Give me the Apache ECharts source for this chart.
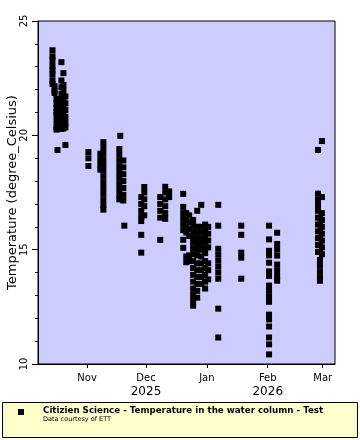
<!DOCTYPE html>
<html>
<head>
<meta charset="utf-8">
<script src="https://cdn.jsdelivr.net/npm/echarts@6/dist/echarts.min.js"></script>
<style>
html,body{margin:0;padding:0;background:#fff;}
#chart{width:360px;height:440px;}
</style>
</head>
<body>
<div id="chart"></div>
<script>
// Sampling times (one per vertical column of observations)
const sampleTimes = [
  '2025-10-14 09:00', '2025-10-15 10:00', '2025-10-16 10:00', '2025-10-16 22:00',
  '2025-10-18 22:00', '2025-10-19 23:00', '2025-10-20 23:00',
  '2025-11-01 16:00', '2025-11-07 18:00', '2025-11-09 07:00',
  '2025-11-17 10:00', '2025-11-17 22:00', '2025-11-19 11:00', '2025-11-19 23:00',
  '2025-11-28 14:00', '2025-11-30 03:00', '2025-12-08 06:00', '2025-12-10 19:00', '2025-12-12 19:00',
  '2025-12-19 23:00', '2025-12-21 12:00', '2025-12-23 00:00', '2025-12-25 00:00',
  '2025-12-27 02:00', '2025-12-29 03:00', '2025-12-31 03:00', '2026-01-01 16:00',
  '2026-01-06 19:00', '2026-01-18 12:00', '2026-02-01 16:00', '2026-02-05 19:00',
  '2026-02-26 14:00', '2026-02-27 14:00', '2026-02-28 14:00'
];
// Temperatures (degree_Celsius) measured at each sampling time
const sampleTemps = [
  [23.72, 23.45, 23.29, 23.03, 22.85, 22.68, 22.41, 22.25],
  [22.15, 21.95, 21.85],
  [21.59, 21.4, 21.2, 21.0, 20.89, 20.63, 20.37, 20.25],
  [19.36],
  [23.2, 22.4, 22.1, 21.8, 21.6, 21.4, 21.2, 21.0, 20.8, 20.6, 20.4, 20.28],
  [22.72, 22.2, 21.95, 21.7, 21.45, 21.2, 20.95, 20.7, 20.5, 20.3],
  [21.7, 21.4, 21.1, 20.8, 20.55, 20.35, 19.58],
  [19.27, 19.0, 18.66],
  [19.2, 18.95, 18.7, 18.5],
  [19.7, 19.45, 19.2, 18.95, 18.7, 18.45, 18.2, 17.95, 17.7, 17.45, 17.2, 16.95, 16.75],
  [19.4, 19.15, 18.9, 18.65, 18.4, 18.15, 17.9, 17.65, 17.4, 17.2],
  [19.98],
  [18.9, 18.6, 18.3, 18.0, 17.7, 17.4, 17.15],
  [16.05],
  [17.3, 17.0, 16.7, 16.45, 16.25, 15.65, 14.87],
  [17.74, 17.5, 17.2, 16.9, 16.5],
  [17.3, 17.0, 16.7, 16.4, 15.43],
  [17.75, 17.5, 17.2, 16.9, 16.6, 16.35],
  [17.55, 17.3],
  [17.44, 16.87, 16.6, 16.35, 16.1, 15.85, 15.43, 15.08],
  [16.6, 16.3, 16.0, 15.75, 14.7, 14.45],
  [16.5, 16.2, 15.9, 15.6, 14.75, 14.5],
  [16.3, 16.05, 15.8, 15.55, 15.3, 15.05, 14.8, 14.5, 14.2, 13.9, 13.6, 13.3, 13.05, 12.8, 12.55],
  [16.7, 16.0, 15.75, 15.5, 15.25, 15.0, 14.75, 14.4, 14.1, 13.8, 13.5, 13.2, 12.9],
  [16.96, 16.0, 15.75, 15.5, 15.25, 15.0, 14.7, 14.4, 14.1, 13.8, 13.5],
  [16.1, 15.85, 15.6, 15.35, 15.1, 14.85, 14.5, 14.2, 13.9, 13.6, 13.3],
  [16.0, 15.7, 15.4, 15.1, 14.4, 14.1, 13.7],
  [16.96, 16.05, 15.04, 14.78, 14.52, 14.26, 14.0, 13.73, 12.42, 11.16],
  [16.05, 15.65, 14.87, 14.65, 13.73],
  [16.05, 15.45, 14.95, 14.75, 14.43, 14.05, 13.85, 13.43, 13.2, 12.95, 12.72, 12.16, 11.95, 11.64, 11.16, 10.86, 10.42],
  [15.74, 15.25, 15.0, 14.74, 14.35, 14.1, 13.85, 13.64],
  [19.36, 17.45, 17.2, 16.95, 16.7, 16.4, 16.1, 15.8, 15.5, 15.2, 14.9],
  [16.4, 16.1, 15.8, 15.5, 15.2, 14.9, 14.55, 14.3, 14.05, 13.8, 13.64],
  [19.75, 17.3, 16.6, 16.3, 16.0, 15.7, 15.4, 15.1, 14.8]
];
// Axis ticks
const monthTicks = ['2025-11-01 00:00', '2025-12-01 00:00', '2026-01-01 00:00', '2026-02-01 00:00', '2026-03-01 00:00'];
const monthLabels = ['Nov', 'Dec', 'Jan', 'Feb', 'Mar'];
const yearLabels = ['', '2025', '', '2026', ''];
const xMin = '2025-10-07 00:00';
const xMax = '2026-03-07 06:00';
const yTicks = [10, 15, 20, 25];

const seriesName = 'Citizien Science - Temperature in the water column - Test';
const creditText = 'Data courtesy of ETT';
const yTitle = 'Temperature (degree_Celsius)';

function ts(s) {
  const m = s.match(/(\d+)-(\d+)-(\d+) (\d+):(\d+)/);
  return Date.UTC(+m[1], +m[2] - 1, +m[3], +m[4], +m[5]);
}

const points = [];
sampleTimes.forEach((t, i) => {
  sampleTemps[i].forEach(v => points.push([ts(t), v]));
});
const tickTs = monthTicks.map(ts);

const FONT = 'DejaVu Sans';
const chart = echarts.init(document.getElementById('chart'), null, {renderer: 'canvas'});
chart.setOption({
  animation: false,
  backgroundColor: '#ffffff',
  grid: {
    left: 38, right: 25, top: 21, bottom: 76,
    containLabel: false,
    outerBoundsMode: 'none',
    show: true, backgroundColor: '#CCCCFF', borderColor: '#000', borderWidth: 1
  },
  xAxis: {
    type: 'value',
    min: ts(xMin),
    max: ts(xMax),
    scale: true,
    axisLine: {show: true, onZero: false, lineStyle: {color: '#000', width: 1}},
    axisTick: {show: true, length: 4, lineStyle: {color: '#000'}, customValues: tickTs},
    splitLine: {show: false},
    axisLabel: {
      customValues: tickTs,
      margin: 8,
      fontFamily: FONT,
      color: '#000',
      formatter: function (val) {
        let idx = -1;
        tickTs.forEach((t, k) => { if (Math.abs(t - val) < 3600000) idx = k; });
        if (idx < 0) return '';
        return yearLabels[idx]
          ? '{m|' + monthLabels[idx] + '}\n{y|' + yearLabels[idx] + '}'
          : '{m|' + monthLabels[idx] + '}';
      },
      rich: {
        m: {fontSize: 10, lineHeight: 12, fontFamily: FONT, color: '#000'},
        y: {fontSize: 12, lineHeight: 16, fontFamily: FONT, color: '#000'}
      }
    }
  },
  yAxis: {
    type: 'value',
    min: 10, max: 25, interval: 5,
    name: yTitle,
    nameLocation: 'middle',
    nameGap: 19,
    nameMoveOverlap: false,
    nameTextStyle: {fontFamily: FONT, fontSize: 13, color: '#000'},
    axisLine: {show: true, lineStyle: {color: '#000'}},
    axisTick: {show: true, length: 6, lineStyle: {color: '#000'}},
    minorTick: {show: true, splitNumber: 5, length: 3, lineStyle: {color: '#000'}},
    splitLine: {show: false},
    minorSplitLine: {show: false},
    axisLabel: {
      rotate: 90, margin: 9, fontFamily: FONT, fontSize: 10, color: '#000',
      formatter: v => (yTicks.indexOf(v) >= 0 ? String(v) : '')
    }
  },
  series: [{
    name: seriesName,
    type: 'scatter',
    symbol: 'rect',
    symbolSize: 6,
    itemStyle: {color: '#000', opacity: 1},
    data: points
  }],
  graphic: [
    {type: 'rect', left: 2, top: 402, shape: {width: 355, height: 35},
     style: {fill: '#FFFFCC', stroke: '#000', lineWidth: 1}},
    {type: 'rect', left: 18, top: 409, shape: {width: 6, height: 6}, style: {fill: '#000'}},
    {type: 'text', left: 43, top: 406,
     style: {text: seriesName, fontFamily: FONT, fontSize: 8.7, fontWeight: 'bold', fill: '#000'}},
    {type: 'text', left: 43, top: 416,
     style: {text: creditText, fontFamily: FONT, fontSize: 6.5, fill: '#000'}}
  ]
});
</script>
</body>
</html>
